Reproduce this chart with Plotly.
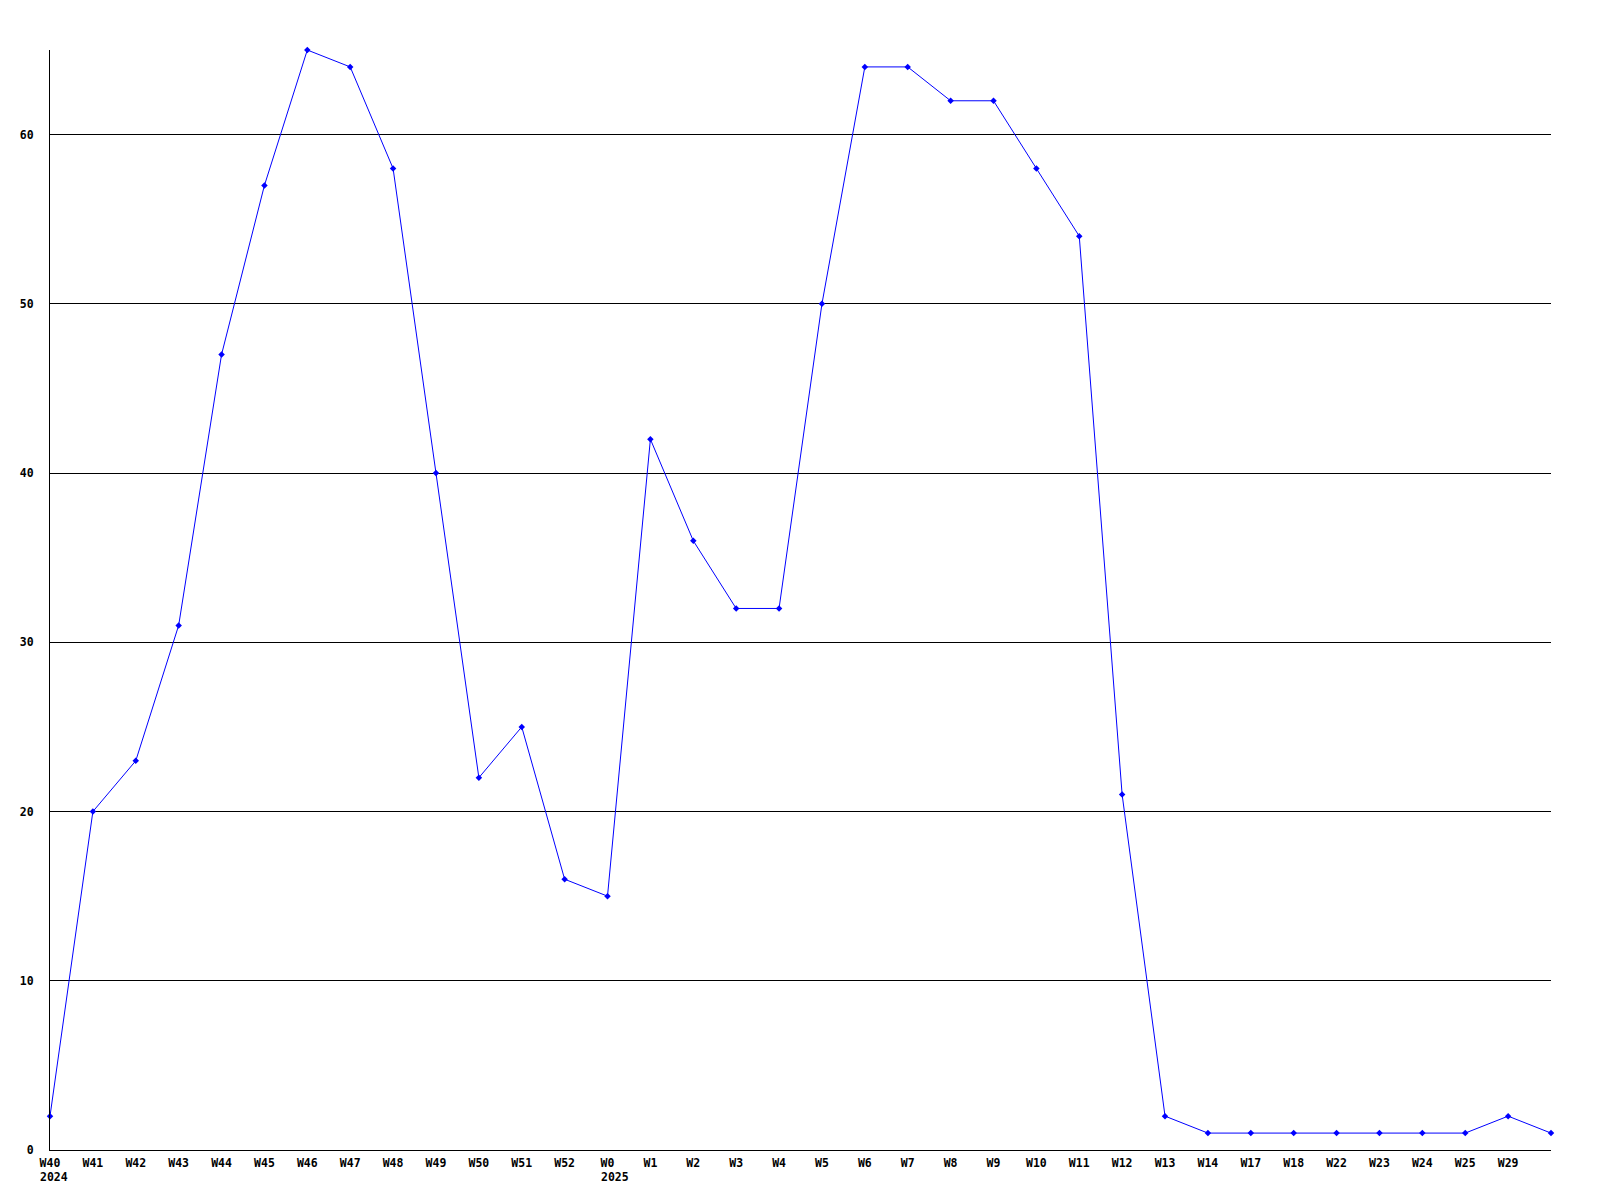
import plotly.graph_objects as go

weeks = ["W40", "W41", "W42", "W43", "W44", "W45", "W46", "W47", "W48", "W49",
         "W50", "W51", "W52", "W0", "W1", "W2", "W3", "W4", "W5", "W6",
         "W7", "W8", "W9", "W10", "W11", "W12", "W13", "W14", "W17", "W18",
         "W22", "W23", "W24", "W25", "W29", ""]
year_labels = ["2024", "2025"]
year_weeks = ["W40", "W0"]
values = [2, 20, 23, 31, 47, 57, 65, 64, 58, 40,
          22, 25, 16, 15, 42, 36, 32, 32, 50, 64,
          64, 62, 62, 58, 54, 21, 2, 1, 1, 1,
          1, 1, 1, 1, 2, 1]
y_ticks = [0, 10, 20, 30, 40, 50, 60]

xpos = list(range(len(weeks)))

fig = go.Figure()
fig.add_trace(go.Scatter(
    x=xpos, y=values, mode="lines+markers",
    line=dict(color="#0000ff", width=1),
    marker=dict(symbol="diamond", size=5, color="#0000ff"),
    hoverinfo="skip", showlegend=False, cliponaxis=False,
))

font = dict(family="DejaVu Sans Mono", size=11.5, color="#000000", weight="bold")

for yl, wk in zip(year_labels, year_weeks):
    wx = weeks.index(wk)
    half = len(wk) * 0.602 * 11.5 / 2
    fig.add_annotation(
        x=wx, xref="x", y=0, yref="paper",
        text=yl, showarrow=False, font=font,
        xanchor="left", yanchor="top",
        xshift=-half - 2, yshift=-18,
    )

fig.update_layout(
    width=1600, height=1200,
    margin=dict(l=42, r=57, t=42, b=58),
    paper_bgcolor="white", plot_bgcolor="white",
    xaxis=dict(
        range=[0, len(weeks) - 1],
        tickmode="array", tickvals=xpos[:-1], ticktext=weeks[:-1],
        showgrid=False, zeroline=False,
        showline=True, linecolor="#000000", linewidth=1,
        ticks="outside", ticklen=2, tickcolor="rgba(0,0,0,0)",
        tickfont=font, tickangle=0,
        fixedrange=True,
    ),
    yaxis=dict(
        range=[0, 65],
        tickmode="array", tickvals=y_ticks,
        showgrid=True, gridcolor="#000000", gridwidth=1,
        zeroline=False,
        showline=True, linecolor="#000000", linewidth=1,
        ticks="outside", ticklen=13, tickcolor="rgba(0,0,0,0)",
        tickfont=font,
        fixedrange=True,
    ),
)

fig.write_html("out.html")
